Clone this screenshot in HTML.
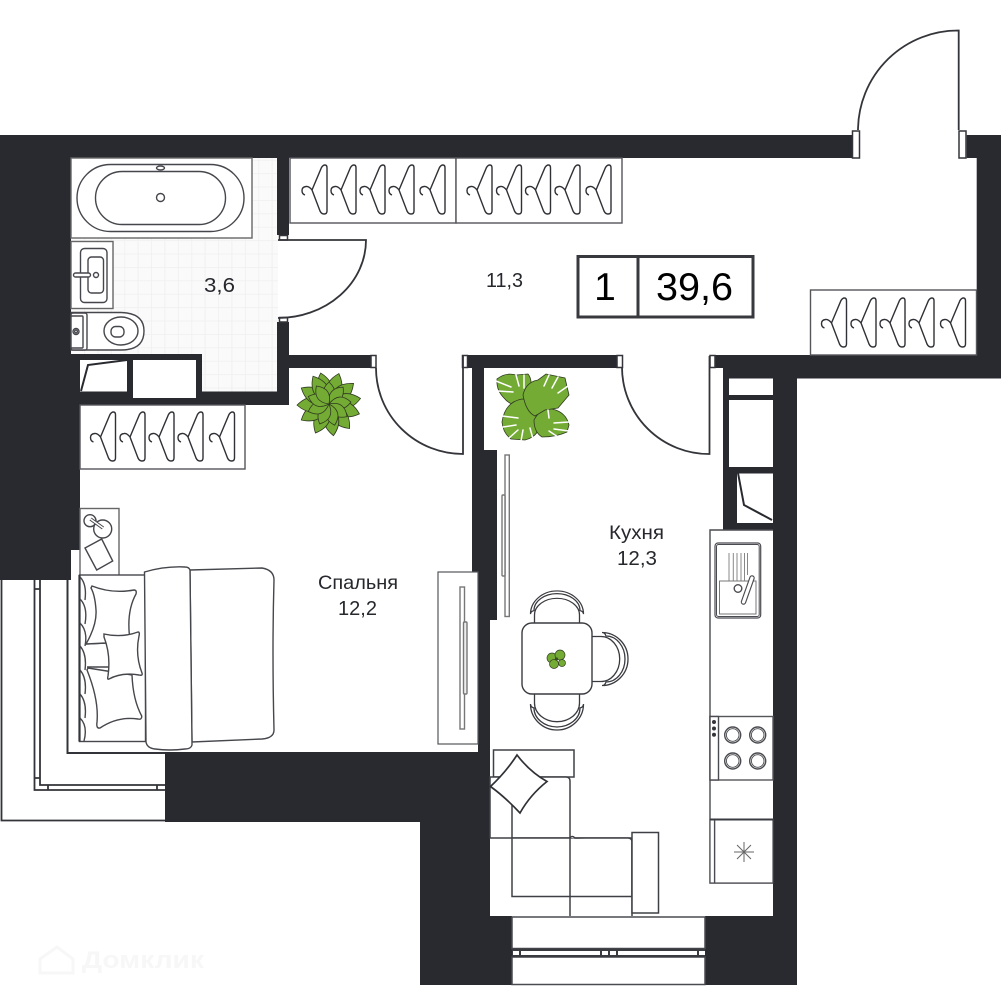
<!DOCTYPE html>
<html><head><meta charset="utf-8"><style>
html,body{margin:0;padding:0;background:#fff}
svg{display:block}
text{font-family:"Liberation Sans",sans-serif;fill:#26282d}
</style></head><body>
<svg width="1001" height="1001" viewBox="0 0 1001 1001" xmlns="http://www.w3.org/2000/svg">
<defs>
<pattern id="tile" patternUnits="userSpaceOnUse" x="3.7" y="-1" width="13.4" height="13.4">
<rect width="13.4" height="13.4" fill="#fafafa"/><path d="M0 0H13.4M0 0V13.4" stroke="#efefef" stroke-width="1.6"/>
</pattern>
<path id="h" fill="none" stroke="#303136" stroke-width="1.4" d="M10 25 L19.5 2.5 Q21 0 23 0 Q25 0 25 3 V46 Q25 49 22 49 Q19.5 49 18 46 L10 25 Q7 21 4 21.5 Q0 22 0 25.5 Q0 29 3 30"/>
<g id="chair" fill="#fff" stroke="#3a3b40" stroke-width="1.3">
<path d="M-22.5 0V-9A22.5 18.7 0 0 1 22.5 -9V0"/>
<path d="M-26.5 -10A26.5 26 0 0 1 26.5 -10Q26.5 -13 23 -14A23 19 0 0 0 -23 -14Q-26.5 -13 -26.5 -10Z"/>
</g>
<path id="lf" fill="#74ab35" stroke="#2f3a20" stroke-width=".8" d="M0 0Q-15 -16 0 -32Q15 -16 0 0Z"/>
<path id="lf2" fill="#74ab35" stroke="#2f3a20" stroke-width=".8" d="M0 0Q-12 -11 0 -22Q12 -11 0 0Z"/>
</defs>
<rect width="1001" height="1001" fill="#fff"/>
<rect x="71" y="158" width="207" height="234" fill="url(#tile)"/>

<!-- balcony -->
<g fill="none" stroke="#333439" stroke-width="1.8">
<path d="M1.5 580V820.5H165"/>
<path d="M34.5 580V790H165"/>
<path d="M40 580V785H165"/>
<path d="M34 589H40M34 778H40M48 785V790M157 785V790"/>
<path d="M70 551H67.5V753H165" stroke-width="2"/>
</g>

<!-- walls -->
<g fill="#282a30">
<rect x="0" y="135" width="852" height="23"/>
<rect x="966.7" y="135" width="34.3" height="23"/>
<rect x="976.7" y="135" width="24.3" height="243"/>
<rect x="715" y="355" width="286" height="13"/>
<rect x="723" y="368" width="278" height="10.5"/>
<rect x="773" y="378" width="24" height="607"/>
<rect x="723" y="378" width="6" height="152"/>
<rect x="729" y="395" width="44" height="5"/>
<rect x="729" y="467" width="44" height="6.5"/>
<rect x="729" y="467" width="8" height="63"/>
<rect x="737" y="523" width="36" height="7"/>
<rect x="0" y="135" width="71" height="445"/>
<rect x="71" y="354" width="9" height="196"/>
<rect x="71" y="354" width="131" height="6"/>
<rect x="127" y="360" width="6" height="32"/>
<rect x="196" y="360" width="6" height="32"/>
<rect x="80" y="391.5" width="209" height="13.5"/>
<rect x="277" y="158" width="12" height="77"/>
<rect x="277" y="322" width="12" height="83"/>
<rect x="289" y="355" width="82" height="13"/>
<rect x="468" y="355" width="149" height="13"/>
<rect x="472" y="368" width="12" height="83"/>
<rect x="472" y="450" width="25" height="170"/>
<rect x="478" y="620" width="12" height="132"/>
<rect x="165" y="752" width="325" height="70"/>
<rect x="420" y="822" width="70" height="163"/>
<rect x="490" y="916" width="22" height="69"/>
<rect x="705" y="916" width="68" height="69"/>
</g>
<rect x="133" y="360" width="63" height="38" fill="#fff"/>
<rect x="80" y="360" width="47" height="31.5" fill="#fff"/>
<path d="M81 391L88 365L127 360" fill="none" stroke="#282a30" stroke-width="2"/>
<rect x="737" y="473.5" width="34" height="49.5" fill="#fff"/>
<path d="M738 473L744 505L772 520" fill="none" stroke="#282a30" stroke-width="2"/>

<!-- door frames -->
<g fill="#fff" stroke="#34353a" stroke-width="1.5">
<rect x="852.5" y="131" width="7" height="27"/>
<rect x="959" y="131" width="7" height="27"/>
<rect x="279.5" y="235.5" width="8" height="4.5"/>
<rect x="279.5" y="317.5" width="8" height="4.5"/>
<rect x="371" y="355.5" width="5" height="12"/>
<rect x="462.5" y="355.5" width="5" height="12"/>
<rect x="617" y="355.5" width="5.5" height="12"/>
<rect x="710" y="355.5" width="5" height="12"/>
</g>
<!-- door leaves -->
<g fill="none" stroke="#34353a" stroke-width="1.8">
<path d="M858 130A100 100 0 0 1 958.7 30.5V130"/>
<path d="M278 240H366A88 78 0 0 1 278 318"/>
<path d="M376 368A87 86 0 0 0 463 454V356"/>
<path d="M622 367A87 87 0 0 0 709.5 454V356"/>
</g>

<!-- wardrobes -->
<g fill="#fff" stroke="#55565a" stroke-width="1.4">
<rect x="290" y="158" width="166" height="65"/>
<rect x="456" y="158" width="166" height="65"/>
<rect x="810.5" y="290" width="166" height="65"/>
<rect x="80" y="405" width="165" height="64"/>
</g>
<g>
<use href="#h" x="302" y="165"/><use href="#h" x="331" y="165"/><use href="#h" x="360" y="165"/><use href="#h" x="389" y="165"/><use href="#h" x="420" y="165"/>
<use href="#h" x="467" y="165"/><use href="#h" x="496.5" y="165"/><use href="#h" x="525.5" y="165"/><use href="#h" x="555" y="165"/><use href="#h" x="586" y="165"/>
<use href="#h" x="821.5" y="298"/><use href="#h" x="851" y="298"/><use href="#h" x="880" y="298"/><use href="#h" x="909" y="298"/><use href="#h" x="940.5" y="298"/>
<use href="#h" x="90.5" y="412"/><use href="#h" x="120" y="412"/><use href="#h" x="149" y="412"/><use href="#h" x="178" y="412"/><use href="#h" x="209.5" y="412"/>
</g>

<!-- bathroom -->
<g fill="#fff" stroke="#46474c" stroke-width="1.4">
<rect x="71" y="158" width="181" height="80" stroke="#666"/>
<rect x="77" y="164.5" width="167" height="67" rx="33.5"/>
<rect x="95.5" y="171.5" width="130" height="53" rx="26.5"/>
<circle cx="160.5" cy="197.5" r="4"/>
<ellipse cx="160.5" cy="168" rx="4" ry="2"/>
<rect x="71" y="241.5" width="42" height="67" stroke="#666"/>
<rect x="80.5" y="248.5" width="26.5" height="54" rx="4"/>
<rect x="88" y="257" width="15.5" height="36" rx="3.5"/>
<circle cx="96" cy="275" r="2.5"/>
<rect x="73.5" y="273" width="17" height="4" rx="2"/>
<path d="M71 312.5H121Q144 313 144 331Q144 350 121 350H71Z"/>
<rect x="71" y="313" width="16" height="37" rx="2"/>
<rect x="71" y="316" width="12" height="32" rx="1"/>
<circle cx="76" cy="331.5" r="3"/>
<circle cx="76" cy="331.5" r="1.4"/>
<ellipse cx="121" cy="331" rx="17" ry="14"/>
<rect x="111" y="326.5" width="13" height="10.5" rx="4.5"/>
</g>

<!-- bedroom furniture -->
<g fill="#fff" stroke="#46474c" stroke-width="1.4">
<rect x="80" y="508.5" width="39" height="67" stroke="#666"/>
<circle cx="90" cy="520.7" r="6"/>
<circle cx="102.7" cy="529" r="9"/>
<path d="M90.5 519L103 528" stroke-width="3.5" stroke="#46474c"/>
<path d="M90.5 519L103 528" stroke-width="1.5" stroke="#fff"/>
<path d="M85 548L101.7 539L112.7 561L96.7 570Z"/>
<rect x="79.5" y="575" width="66" height="166.5"/>
<path d="M79.5 575V741.5" stroke-width="2.2" stroke="#34353a"/>
<path fill="none" d="M80 577Q87 584 85 600M80 599Q88 607 85 624M80 623Q88 631 85 646M80 646Q87 654 85 670M80 670Q87 678 85 694M80 694Q87 702 85 718M80 718Q88 726 84 741"/>
<path fill="none" d="M86 644L106 643M87 667L110 667"/>
<path d="M92 586Q112 594 134 590Q137 590 136 594Q126 612 130 640L106 643L86 644Q97 625 96 610Q95 595 91 588Z"/>
<path d="M88 668L132 675Q133 700 141.7 716Q142 720 138 719Q118 716 100 728Q96 729 97 722Q99 700 87 670Z"/>
<path d="M104 634Q122 638 138 632Q140 632 139 636Q135 655 142 673Q143 676 139 675Q122 672 109 679Q107 680 108 676Q111 655 104 637Z"/>
<path d="M190 570L262 568Q274 570 274 580Q272 650 274 730Q274 738 262 739L192 742Z"/>
<path d="M144.5 572Q165 566 185 567Q189 567 190 570L192 745Q191 749 185 749Q170 751 155 749Q147 748 146 742Z"/>
<rect x="438" y="572" width="40" height="172" stroke-width="1.2" stroke="#55565a"/>
<rect x="460" y="587" width="4.5" height="142" stroke="#777"/>
<rect x="463.5" y="622" width="3.5" height="72" rx="1" stroke="#777" fill="#eee"/>
<rect x="505" y="455" width="4.3" height="161.5" stroke="#777"/>
<rect x="502" y="495" width="3" height="81" rx="1" stroke="#777"/>
</g>

<!-- dining -->
<g>
<g transform="translate(557,623) scale(1,.89)"><use href="#chair"/></g>
<g transform="translate(557,694) rotate(180)"><use href="#chair"/></g>
<g transform="translate(592,659) rotate(90)"><use href="#chair"/></g>
<rect x="522" y="623" width="70" height="71" rx="10" fill="#fff" stroke="#3a3b40" stroke-width="1.4"/>
<g fill="#74ab35" stroke="#33401f" stroke-width=".7">
<circle cx="552" cy="658" r="5"/><circle cx="560" cy="655" r="5"/><circle cx="554" cy="664" r="4.5"/><circle cx="562" cy="663" r="3.5"/>
</g>
<circle cx="556.5" cy="659" r="1.6" fill="#3a4a25"/>
</g>

<!-- sofa -->
<g fill="#fff" stroke="#3f4045" stroke-width="1.5">
<rect x="493.5" y="750" width="80.5" height="27"/>
<path d="M490 777H566Q570 777 570 781V838H490Z"/>
<path d="M512 777V896.5H632V838H574Q570 838 570 838H512"/>
<path d="M570 838V916M632 838V916"/>
<path d="M570 838Q572 835 575 838H628Q632 838 632 842"/>
<rect x="632" y="832.5" width="26.5" height="80.5"/>
<path d="M517 755Q530 772 547 781.5Q530 795 520 813Q505 797 490.5 786.5Q506 772 517 755Z" stroke-width="1.7" stroke="#303136"/>
</g>

<!-- window -->
<g fill="#fff" stroke="#4a4b50" stroke-width="1.5">
<rect x="512" y="917" width="193" height="31.5"/>
<rect x="512" y="957" width="193" height="27.5"/>
</g>
<rect x="512" y="948.5" width="193" height="9" fill="#3a3b40"/>
<g fill="#fff">
<rect x="513" y="951" width="6" height="4"/>
<rect x="521" y="951" width="79" height="4"/>
<rect x="602" y="951" width="6" height="4"/>
<rect x="610" y="951" width="6" height="4"/>
<rect x="618" y="951" width="79" height="4"/>
<rect x="699" y="951" width="6" height="4"/>
</g>

<!-- kitchen -->
<g fill="#fff" stroke="#4a4b50" stroke-width="1.4">
<path d="M773 530H710V883H773"/>
<rect x="715" y="543" width="45.7" height="75" rx="3" stroke-width="1.2"/>
<rect x="716.5" y="544.5" width="42.7" height="72" rx="2" stroke-width="1"/>
<path d="M729 553V581M733.3 553V581M737 553V581M741 553V581M744.5 553V581M747.5 553V575" stroke="#888" stroke-width="1"/>
<rect x="719.5" y="581" width="36.5" height="33" stroke="#777" stroke-width="1" fill="none"/>
<circle cx="738" cy="588.5" r="3.8"/>
<path d="M743.5 602L752 578" stroke-width="5.5" stroke-linecap="round" stroke="#4a4b50"/>
<path d="M743.5 602L752 578" stroke-width="3.2" stroke-linecap="round" stroke="#fff"/>
<rect x="710" y="716.5" width="63" height="63.5" stroke="#55565a"/>
<rect x="710" y="716.5" width="8.5" height="63.5"/>
<circle cx="732.7" cy="735" r="8"/><circle cx="732.7" cy="735" r="6.3" stroke-width=".9"/>
<circle cx="757.7" cy="735" r="8"/><circle cx="757.7" cy="735" r="6.3" stroke-width=".9"/>
<circle cx="732.7" cy="761" r="8"/><circle cx="732.7" cy="761" r="6.3" stroke-width=".9"/>
<circle cx="757.7" cy="761" r="8"/><circle cx="757.7" cy="761" r="6.3" stroke-width=".9"/>
<rect x="710" y="819.5" width="63" height="63.5" stroke-width="1.2"/>
<path d="M710 819.5H773" stroke-width="2" stroke="#3a3b40"/>
<path d="M714.6 820V883"/>
<path d="M744 842V862M734 852H754M737 845L751 859M751 845L737 859" stroke="#666" stroke-width="1"/>
</g>
<g fill="#34353a"><circle cx="714" cy="722" r="2"/><circle cx="714" cy="728.5" r="2"/><circle cx="714" cy="734.7" r="2"/></g>

<!-- plant 1 -->
<g transform="translate(329,404)">
<use href="#lf" transform="rotate(-15)"/><use href="#lf" transform="rotate(18)"/><use href="#lf" transform="rotate(50)"/><use href="#lf" transform="rotate(80)"/><use href="#lf" transform="rotate(108)"/><use href="#lf" transform="rotate(140)"/><use href="#lf" transform="rotate(172)"/><use href="#lf" transform="rotate(205)"/><use href="#lf" transform="rotate(240)"/><use href="#lf" transform="rotate(268)"/><use href="#lf" transform="rotate(300)"/><use href="#lf" transform="rotate(330)"/>
<use href="#lf2" transform="rotate(0)"/><use href="#lf2" transform="rotate(40)"/><use href="#lf2" transform="rotate(85)"/><use href="#lf2" transform="rotate(125)"/><use href="#lf2" transform="rotate(165)"/><use href="#lf2" transform="rotate(205)"/><use href="#lf2" transform="rotate(250)"/><use href="#lf2" transform="rotate(290)"/><use href="#lf2" transform="rotate(325)"/>
</g>

<!-- monstera -->
<g fill="#74ab35" stroke="#2f3a20" stroke-width=".8">
<path d="M497 379Q506 372 516 375L528 374Q533 380 530 392L526 404Q512 408 504 398Q496 390 497 379Z"/>
<path d="M502 422Q505 402 522 399Q538 400 541 418Q541 436 525 440L511 439Q503 433 502 422Z"/>
<path d="M534 420Q540 408 552 409Q566 412 569 425L567 432Q556 437 542 437Q534 432 534 420Z"/>
<path d="M523 395Q526 382 538 380L546 374L565 378L569 395L558 408L545 410L535 416Q526 412 523 395Z"/>
</g>
<g fill="none" stroke="#fff" stroke-width="1.5" stroke-linecap="round">
<path d="M496 381L511 387M498 391L513 392M516 375L519 386M524 375L524 388"/>
<path d="M502 416L518 418M503 427L516 425M509 438L518 430M521 441L523 430M533 439L530 428"/>
<path d="M569 422L554 423M569 431L554 429M558 437L549 431M548 410L549 418"/>
<path d="M549 375L544 386M558 377L552 388M568 386L558 393"/>
</g>

<!-- labels -->
<rect x="578" y="256.5" width="175" height="60.5" fill="#fff" stroke="#38393e" stroke-width="3"/>
<path d="M638 256V318" stroke="#38393e" stroke-width="3"/>
<text x="605" y="300" font-size="39" text-anchor="middle" style="fill:#000">1</text>
<text x="656" y="300" font-size="39" textLength="77" lengthAdjust="spacingAndGlyphs" style="fill:#000">39,6</text>
<text x="204" y="292" font-size="20" textLength="31" lengthAdjust="spacingAndGlyphs">3,6</text>
<text x="486" y="287" font-size="20" textLength="37" lengthAdjust="spacingAndGlyphs">11,3</text>
<text x="318" y="589" font-size="19.5" textLength="80" lengthAdjust="spacingAndGlyphs">Спальня</text>
<text x="338" y="615" font-size="20" textLength="39" lengthAdjust="spacingAndGlyphs">12,2</text>
<text x="609" y="539" font-size="19.5" textLength="55" lengthAdjust="spacingAndGlyphs">Кухня</text>
<text x="617" y="565" font-size="20" textLength="40" lengthAdjust="spacingAndGlyphs">12,3</text>

<!-- watermark -->
<path d="M40 959L57 947L73 959V973H40Z" fill="none" stroke="#f7f7f7" stroke-width="3"/>
<text x="82" y="968" font-size="24" font-weight="bold" textLength="122" lengthAdjust="spacingAndGlyphs" style="fill:#f7f7f7">Домклик</text>
</svg>
</body></html>
